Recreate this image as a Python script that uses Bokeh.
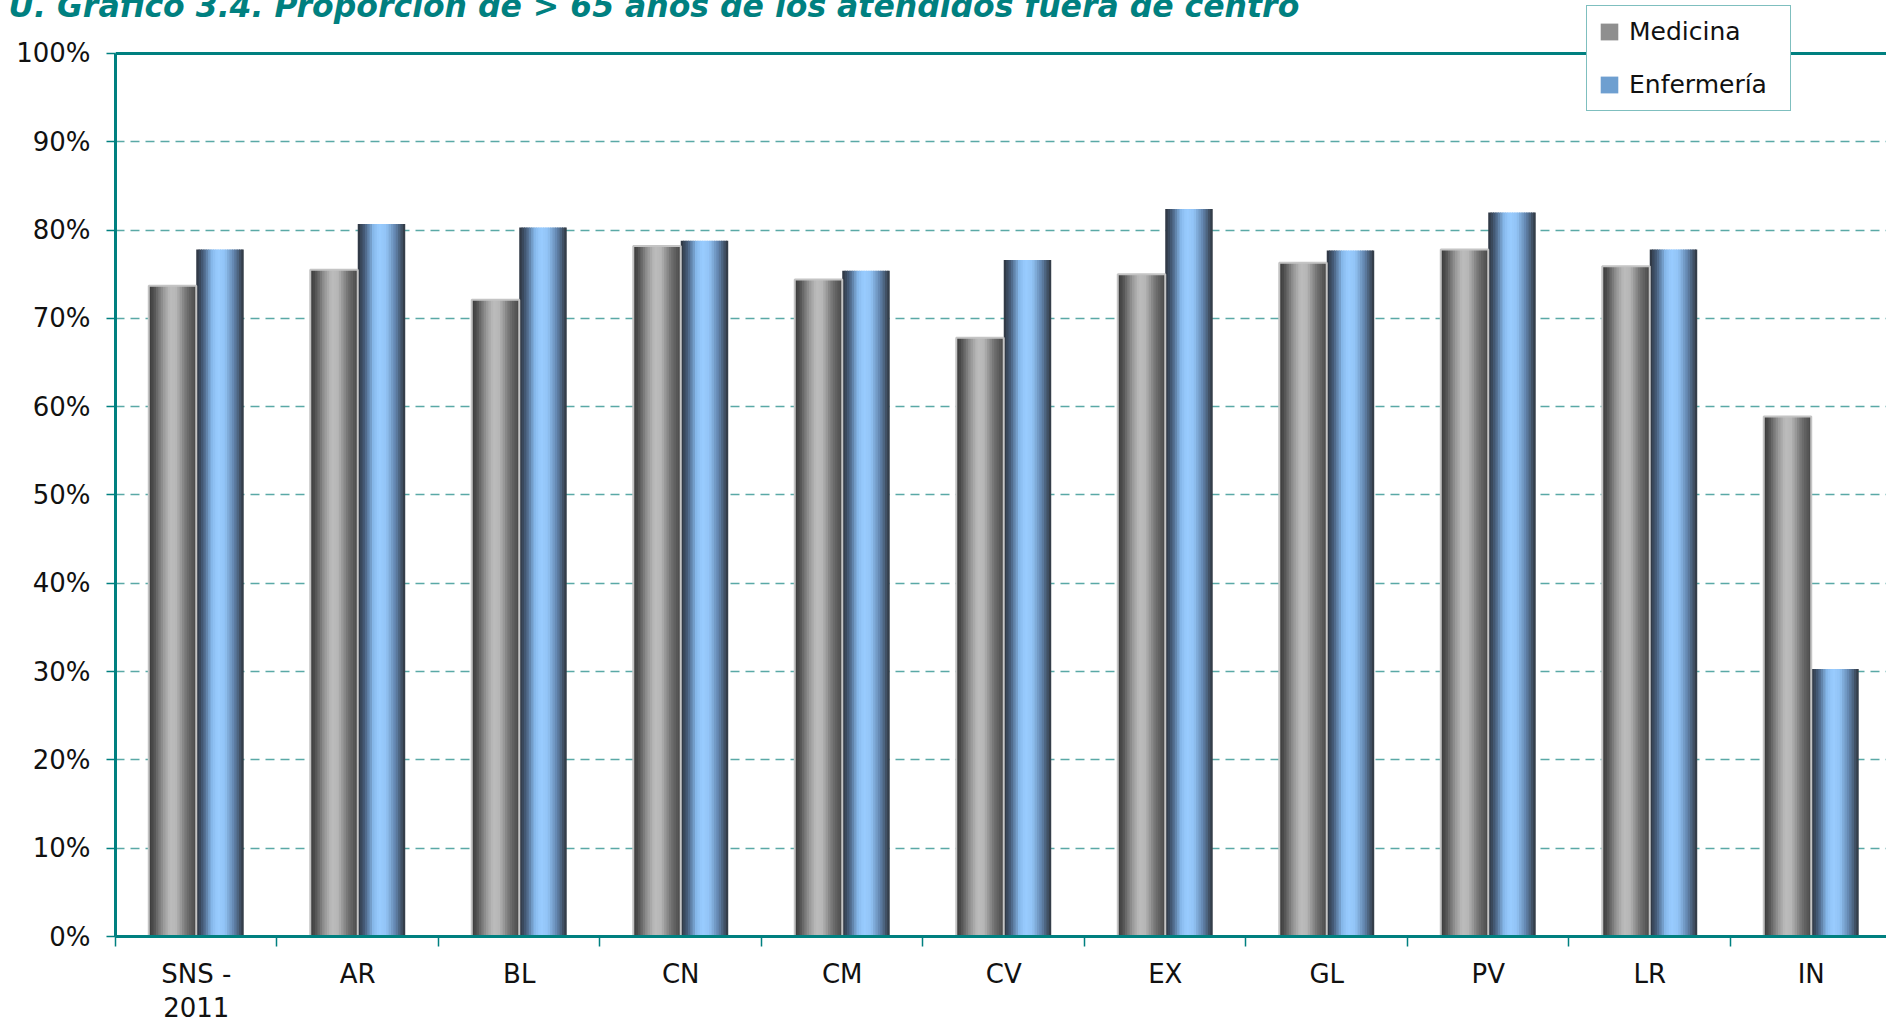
import numpy as np
from bokeh.plotting import figure
from bokeh.models import (ColumnDataSource, Range1d, FixedTicker, PrintfTickFormatter,
                          Span, Legend, LegendItem)
from bokeh.transform import dodge
from bokeh.embed import file_html
from bokeh.resources import INLINE

# ---------------- data ----------------
categories = ["SNS -\n2011", "AR", "BL", "CN", "CM", "CV", "EX", "GL", "PV", "LR", "IN"]
medicina = [73.7, 75.5, 72.1, 78.2, 74.4, 67.8, 75.0, 76.3, 77.8, 75.9, 58.9]
enfermeria = [77.8, 80.7, 80.3, 78.8, 75.4, 76.6, 82.4, 77.7, 82.0, 77.8, 30.3]
y_ticks = [0, 10, 20, 30, 40, 50, 60, 70, 80, 90, 100]
title_text = "U. Gráfico 3.4. Proporción de > 65 años de los atendidos fuera de centro"

xs = [i + 0.5 for i in range(len(categories))]
src = ColumnDataSource(dict(x=xs, med=medicina, enf=enfermeria))

TEAL = "#008080"
FONT = "DejaVu Sans"

p = figure(width=1886, height=1025, output_backend="svg", toolbar_location=None,
           x_range=Range1d(0, 10.966), y_range=Range1d(0, 106.0),
           min_border_left=115, min_border_top=0, min_border_right=0, min_border_bottom=88)
p.outline_line_color = None
p.background_fill_color = "white"
p.border_fill_color = "white"

# title: pushed up so that its top is cut like in the original
p.title.text = title_text
p.title.text_font = FONT
p.title.text_font_style = "bold italic"
p.title.text_font_size = "31.5px"
p.title.text_color = TEAL
p.title.align = "left"
p.title.vertical_align = "bottom"
p.title.offset = -107
p.title.standoff = -46

# ---------------- axes ----------------
xa = p.xaxis[0]
xa.ticker = FixedTicker(ticks=xs, minor_ticks=list(range(len(categories) + 1)))
xa.major_label_overrides = {x: c for x, c in zip(xs, categories)}
xa.major_tick_out = 0
xa.major_tick_in = 0
xa.minor_tick_out = 10
xa.minor_tick_in = 0
xa.minor_tick_line_color = TEAL
xa.minor_tick_line_width = 1.5
xa.axis_line_color = TEAL
xa.axis_line_width = 3
xa.major_label_standoff = 12
xa.major_label_text_font = FONT
xa.major_label_text_font_size = "26px"
xa.major_label_text_color = "#111111"
xa.major_label_text_line_height = 1.14

ya = p.yaxis[0]
ya.ticker = FixedTicker(ticks=y_ticks, minor_ticks=[])
ya.formatter = PrintfTickFormatter(format="%d%%")
ya.bounds = (0, 100)
ya.major_tick_out = 9
ya.major_tick_in = 0
ya.major_tick_line_color = TEAL
ya.major_tick_line_width = 1.5
ya.axis_line_color = TEAL
ya.axis_line_width = 3
ya.major_label_standoff = 16
ya.major_label_text_font = FONT
ya.major_label_text_font_size = "26px"
ya.major_label_text_color = "#111111"

p.xgrid.grid_line_color = None
p.ygrid.ticker = FixedTicker(ticks=y_ticks)
p.ygrid.grid_line_color = "#5aa9a6"
p.ygrid.grid_line_width = 1.5
p.ygrid.grid_line_dash = "9 6"

p.add_layout(Span(location=100, dimension="width", line_color=TEAL, line_width=3))

# ---------------- cylinder-like bars (vertical strips) ----------------
def interp_colors(stops, n):
    ts = np.array([s[0] for s in stops])
    cols = np.array([s[1] for s in stops], dtype=float)
    out = []
    for k in range(n):
        t = (k + 0.5) / n
        rgb = [np.interp(t, ts, cols[:, c]) for c in range(3)]
        out.append("#%02x%02x%02x" % tuple(int(round(v)) for v in rgb))
    return out

gray_stops = [(0.0, (58, 58, 58)), (0.1, (78, 78, 78)), (0.3, (150, 150, 150)),
              (0.45, (188, 188, 188)), (0.58, (182, 182, 182)), (0.8, (112, 112, 112)),
              (1.0, (72, 72, 72))]
blue_stops = [(0.0, (44, 50, 60)), (0.15, (72, 96, 126)), (0.33, (135, 185, 236)),
              (0.45, (153, 204, 255)), (0.6, (146, 196, 246)), (0.8, (96, 130, 170)),
              (1.0, (46, 52, 60))]

BW = 0.294  # bar width in category units
N = 20
sw = BW / N

def draw_bar(field, center, stops):
    cols = interp_colors(stops, N)
    rends = []
    for k in range(N):
        left = center - BW / 2 + k * sw
        right = left + (sw * 1.45 if k < N - 1 else sw)
        r = p.quad(left=dodge("x", left, range=p.x_range), right=dodge("x", right, range=p.x_range),
                   top=field, bottom=0, source=src, fill_color=cols[k], line_color=None)
        rends.append(r)
    return rends

med_r = draw_bar("med", -BW / 2, gray_stops)
enf_r = draw_bar("enf", BW / 2, blue_stops)
# light outline on the grey bars
p.vbar(x=dodge("x", -BW / 2, range=p.x_range), width=BW, top="med", bottom=0, source=src,
       fill_color=None, line_color="#c4c4c4", line_width=2)

# ---------------- legend ----------------
leg_med = p.quad(left=[0], right=[0], top=[0], bottom=[0], fill_color="#8f8f8f", line_color=None)
leg_enf = p.quad(left=[0], right=[0], top=[0], bottom=[0], fill_color="#6e9fd0", line_color=None)
legend = Legend(items=[LegendItem(label="Medicina", renderers=[leg_med]),
                       LegendItem(label="Enfermería", renderers=[leg_enf])],
                location=(1471, 825), orientation="vertical",
                border_line_color=TEAL, border_line_width=1.5, background_fill_color="white",
                background_fill_alpha=1.0,
                label_text_font=FONT, label_text_font_size="25px", label_text_color="#111111",
                glyph_width=22, glyph_height=21, label_standoff=9, label_height=24,
                label_width=150, padding=11, spacing=24, margin=0)
p.add_layout(legend, "center")

open("out.html", "w").write(file_html(p, INLINE))
